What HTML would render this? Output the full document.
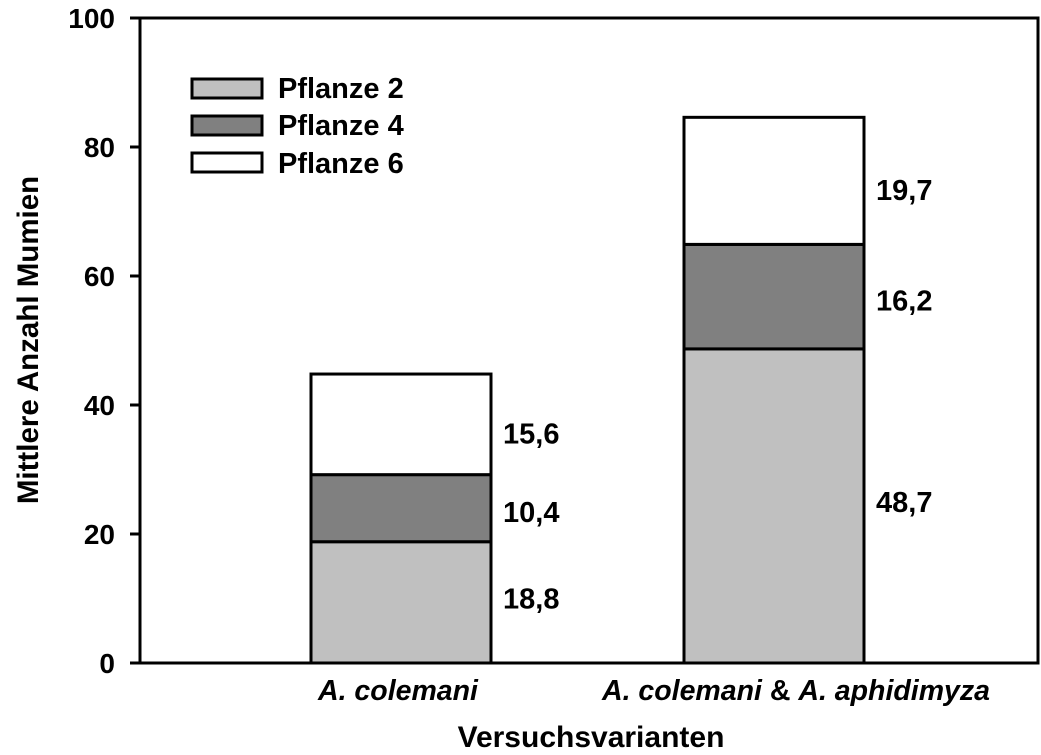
<!DOCTYPE html>
<html><head><meta charset="utf-8"><style>
body{margin:0;background:#fff}
svg text{font-family:"Liberation Sans",Arial,sans-serif;font-weight:bold;fill:#000}
</style></head><body>
<svg id="chart" width="1041" height="750">
<rect x="140" y="18" width="898" height="645" fill="none" stroke="#000" stroke-width="3"/>
<g id="yaxis"></g>
<g id="bars"></g>
<g id="xlabels">
<text x="398" y="700" font-size="28.5" font-style="italic" text-anchor="middle">A. colemani</text>
<text x="796" y="700" font-size="28.5" text-anchor="middle"><tspan font-style="italic">A. colemani</tspan> &amp; <tspan font-style="italic">A. aphidimyza</tspan></text>
</g>
<text x="591" y="747" font-size="30" text-anchor="middle">Versuchsvarianten</text>
<text transform="translate(38,340) rotate(-90)" font-size="29.5" text-anchor="middle">Mittlere Anzahl Mumien</text>
<g>
<rect x="192" y="79" width="70" height="19" fill="#c0c0c0" stroke="#000" stroke-width="3"/>
<text x="278" y="98" font-size="29">Pflanze 2</text>
<rect x="192" y="116" width="70" height="19" fill="#808080" stroke="#000" stroke-width="3"/>
<text x="278" y="135" font-size="29">Pflanze 4</text>
<rect x="192" y="153" width="70" height="19" fill="#fff" stroke="#000" stroke-width="3"/>
<text x="278" y="173" font-size="29">Pflanze 6</text>
</g>
</svg>
<script>
const categories = ["A. colemani", "A. colemani & A. aphidimyza"];
const pflanze2 = [18.8, 48.7];
const pflanze4 = [10.4, 16.2];
const pflanze6 = [15.6, 19.7];
const valueLabels = [["18,8","10,4","15,6"],["48,7","16,2","19,7"]];
const yTicks = [0, 20, 40, 60, 80, 100];
const NS = "http://www.w3.org/2000/svg";
const y = v => 663 - v * 6.45;
const barLeft = [311, 684];
const barW = 180;
const colors = ["#c0c0c0", "#808080", "#ffffff"];
const labelShift = [-4, 4, 9];
const yg = document.getElementById("yaxis");
yTicks.forEach(t => {
  const l = document.createElementNS(NS, "line");
  
  
  l.setAttribute("x1", 130); l.setAttribute("x2", 140);
  l.setAttribute("y1", y(t)); l.setAttribute("y2", y(t));
  l.setAttribute("stroke", "#000"); l.setAttribute("stroke-width", 3);
  yg.appendChild(l);
  const tx = document.createElementNS(NS, "text");
  
  
  tx.setAttribute("x", 115); tx.setAttribute("y", y(t) + 10);
  tx.setAttribute("font-size", 28); tx.setAttribute("text-anchor", "end");
  tx.textContent = t;
  yg.appendChild(tx);
});
const bg = document.getElementById("bars");
categories.forEach((c, i) => {
  const vals = [pflanze2[i], pflanze4[i], pflanze6[i]];
  let base = 0;
  vals.forEach((v, j) => {
    const r = document.createElementNS(NS, "rect");
    
    
    r.setAttribute("x", barLeft[i]); r.setAttribute("width", barW);
    r.setAttribute("y", y(base + v)); r.setAttribute("height", v * 6.45);
    r.setAttribute("fill", colors[j]); r.setAttribute("stroke", "#000"); r.setAttribute("stroke-width", 3);
    bg.appendChild(r);
    const tx = document.createElementNS(NS, "text");
    
    
    tx.setAttribute("x", barLeft[i] + barW + 12);
    tx.setAttribute("y", y(base + v / 2) + 10 + labelShift[j]);
    tx.setAttribute("font-size", 29);
    tx.textContent = valueLabels[i][j];
    bg.appendChild(tx);
    base += v;
  });
});
</script>
</body></html>
